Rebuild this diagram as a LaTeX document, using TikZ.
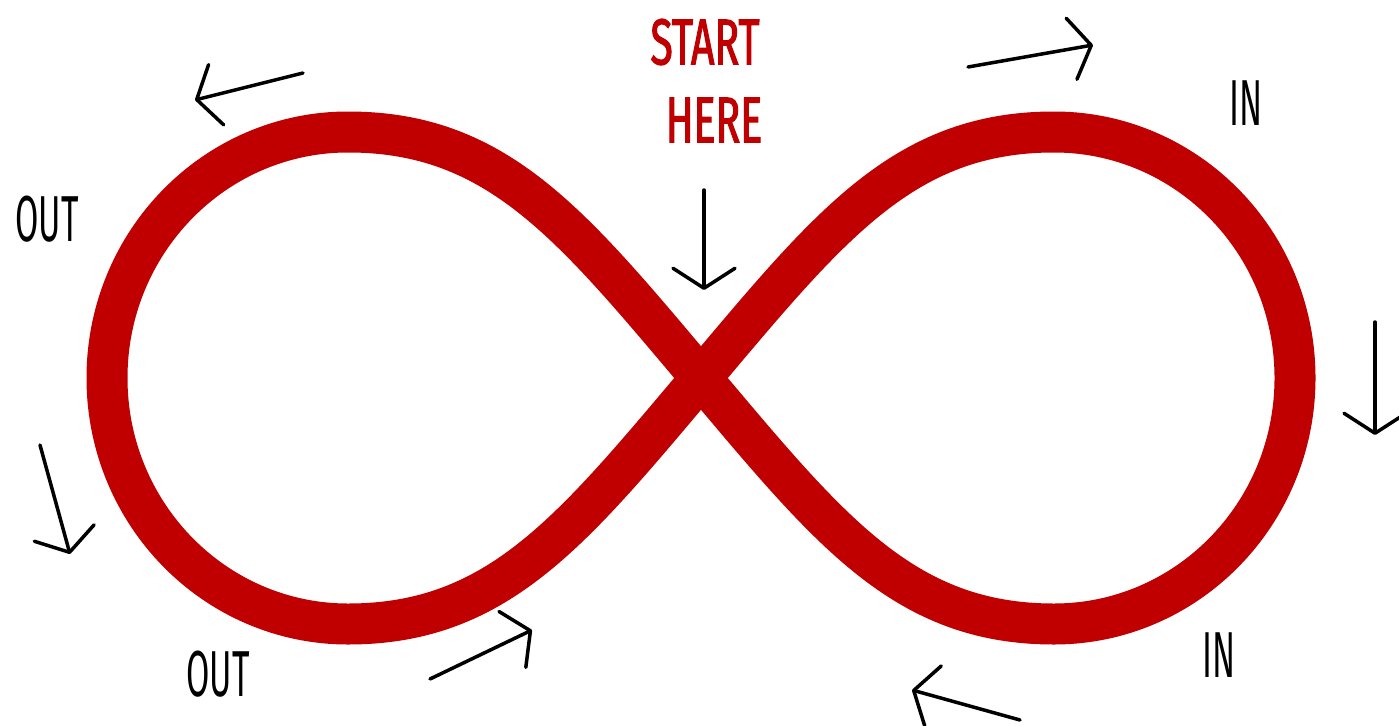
\documentclass[tikz,border=0pt]{standalone}
\usepackage{fontspec}
\usetikzlibrary{arrows.meta}
\newfontfamily\handfont[FakeStretch=0.52]{Fira Sans}
\newfontfamily\startfont[FakeStretch=0.63]{Fira Sans}
\definecolor{infred}{RGB}{192,0,0}
\tikzset{
  loopline/.style={draw=infred, line width=41pt},
  flowarrow/.style={draw=black, line width=3.5pt, line cap=round,
    -{Straight Barb[length=20pt,width=62pt,round]}},
  handlabel/.style={inner sep=0pt, font=\handfont\fontsize{65}{70}\selectfont},
  startlabel/.style={inner sep=0pt, text=infred, font=\startfont\fontsize{65}{70}\selectfont\addfontfeatures{FakeBold=1.5}}
}
\begin{document}
\begin{tikzpicture}[x=1pt,y=-1pt]
\useasboundingbox (0,0) rectangle (1399,725);
% infinity loop
\coordinate (C) at (701,378);
\draw[loopline] (C) .. controls (572,225) and (498,132) .. (348,132)
  .. controls (215,132) and (107,242) .. (107,378)
  .. controls (107,514) and (215,624) .. (348,624)
  .. controls (498,624) and (572,531) .. (C)
  .. controls (830,225) and (904,132) .. (1054,132)
  .. controls (1187,132) and (1295,242) .. (1295,378)
  .. controls (1295,514) and (1187,624) .. (1054,624)
  .. controls (904,624) and (830,531) .. cycle;
% labels
\node[startlabel] (start) at (705,42) {START};
\node[startlabel] (here) at (714,120) {HERE};
\node[handlabel] (outtop) at (47,219) {OUT};
\node[handlabel] (outbot) at (218,674) {OUT};
\node[handlabel] (intop) at (1246,103) {IN};
\node[handlabel] (inbot) at (1219,655) {IN};
% arrows
\coordinate (a1s) at (303,73);   \coordinate (a1e) at (195,100);
\coordinate (a2s) at (704,190);  \coordinate (a2e) at (704,290);
\coordinate (a3s) at (968,67);   \coordinate (a3e) at (1093,45);
\coordinate (a4s) at (1375,322); \coordinate (a4e) at (1375,435);
\coordinate (a5s) at (1020,720); \coordinate (a5e) at (912,690);
\coordinate (a6s) at (430,679);  \coordinate (a6e) at (532,630);
\coordinate (a7s) at (40,445);   \coordinate (a7e) at (70,554);
\draw[flowarrow] (a1s) -- (a1e);
\draw[flowarrow] (a2s) -- (a2e);
\draw[flowarrow] (a3s) -- (a3e);
\draw[flowarrow] (a4s) -- (a4e);
\draw[flowarrow] (a5s) -- (a5e);
\draw[flowarrow] (a6s) -- (a6e);
\draw[flowarrow] (a7s) -- (a7e);
\end{tikzpicture}
\end{document}
